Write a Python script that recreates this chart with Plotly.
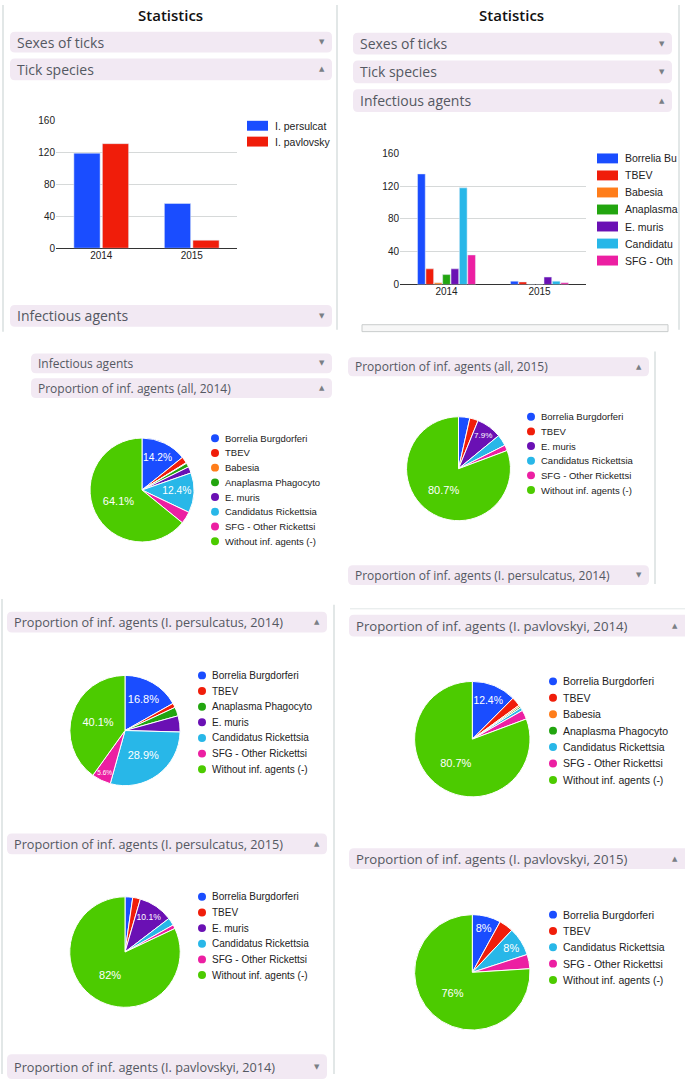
import plotly.graph_objects as go

W, H = 685, 1080

# ---- data -------------------------------------------------------------
years = ["2014", "2015"]

species_labels = ["I. persulcat", "I. pavlovsky"]
persulcatus_counts = [119, 56]
pavlovskyi_counts = [131, 10]

agents = ["Borrelia Burgdorferi", "TBEV", "Babesia", "Anaplasma Phagocytophilum",
          "E. muris", "Candidatus Rickettsia", "SFG - Other Rickettsia",
          "Without inf. agents (-)"]
# legend texts as they are visible (clipped) in the screenshots
bar_legend_labels = ["Borrelia Bu", "TBEV", "Babesia", "Anaplasma", "E. muris", "Candidatu", "SFG - Oth"]
pie_legend_labels = ["Borrelia Burgdorferi", "TBEV", "Babesia", "Anaplasma Phagocyto",
                     "E. muris", "Candidatus Rickettsia", "SFG - Other Rickettsi",
                     "Without inf. agents (-)"]

all_2014 = [135, 19, 2, 12, 19, 118, 36, 610]
all_2015 = [4, 3, 0, 0, 9, 4, 2, 92]
persulcatus_2014 = [39, 3, 0, 6, 11, 67, 13, 93]
pavlovskyi_2014 = [29, 6, 1, 1, 0, 2, 6, 188]
persulcatus_2015 = [2, 2, 0, 0, 9, 2, 1, 73]
pavlovskyi_2015 = [2, 1, 0, 0, 0, 2, 1, 19]

agent_colors = ["#1a4dff", "#f01d0a", "#ff7d1a", "#22a50f", "#6a10b4",
                "#28b7e8", "#ec1fa2", "#4ccb00"]
species_colors = ["#1a4dff", "#f01d0a"]

HEADER_FILL = "#f2e9f3"
HEADER_TXT = "#545862"
BORDER = "#e2e7e7"


def X(v):
    return v / W


def Y(v):
    return 1 - v / H


shapes = []
annotations = []


def rounded_box(x0, y0, x1, y1, r=5):
    p = (f"M{X(x0 + r)},{Y(y0)} L{X(x1 - r)},{Y(y0)} Q{X(x1)},{Y(y0)} {X(x1)},{Y(y0 + r)} "
         f"L{X(x1)},{Y(y1 - r)} Q{X(x1)},{Y(y1)} {X(x1 - r)},{Y(y1)} "
         f"L{X(x0 + r)},{Y(y1)} Q{X(x0)},{Y(y1)} {X(x0)},{Y(y1 - r)} "
         f"L{X(x0)},{Y(y0 + r)} Q{X(x0)},{Y(y0)} {X(x0 + r)},{Y(y0)} Z")
    shapes.append(dict(type="path", xref="paper", yref="paper", path=p,
                       fillcolor=HEADER_FILL, line=dict(width=0), layer="above"))


def header(x0, y0, x1, y1, text, up, size):
    rounded_box(x0, y0, x1, y1)
    ym = Y((y0 + y1) / 2)
    annotations.append(dict(x=X(x0 + 5), y=ym, xref="paper", yref="paper", text=text,
                            showarrow=False, xanchor="left", yanchor="middle",
                            font=dict(family="Open Sans", size=size, color=HEADER_TXT)))
    annotations.append(dict(x=X(min(x1, W) - 10), y=ym, xref="paper", yref="paper",
                            text="▲" if up else "▼", showarrow=False,
                            xanchor="center", yanchor="middle",
                            font=dict(family="DejaVu Sans", size=7, color="#7a7f85")))


def line(x0, y0, x1, y1, color=BORDER, width=2):
    shapes.append(dict(type="line", xref="paper", yref="paper", x0=X(x0), y0=Y(y0),
                       x1=X(x1), y1=Y(y1), line=dict(color=color, width=width)))


def legend(x, y, step, labels, colors, size, kind="circle"):
    for i, (lab, col) in enumerate(zip(labels, colors)):
        yy = y + i * step
        if kind == "circle":
            shapes.append(dict(type="circle", xref="paper", yref="paper",
                               x0=X(x - 4), x1=X(x + 4), y0=Y(yy + 4), y1=Y(yy - 4),
                               fillcolor=col, line=dict(width=0)))
            tx = x + 8
        else:
            shapes.append(dict(type="rect", xref="paper", yref="paper",
                               x0=X(x), x1=X(x + 21), y0=Y(yy + 5), y1=Y(yy - 5),
                               fillcolor=col, line=dict(width=0)))
            tx = x + 26
        annotations.append(dict(x=X(tx), y=Y(yy), xref="paper", yref="paper", text=lab,
                                showarrow=False, xanchor="left", yanchor="middle",
                                font=dict(family="Liberation Sans", size=size, color="#222222")))


def pie_trace(values, cx, cy, r):
    idx = [i for i, v in enumerate(values) if v > 0]
    vals = [values[i] for i in idx]
    total = sum(vals)
    txt = []
    for v in vals:
        p = 100 * v / total
        s = f"{p:.1f}".rstrip("0").rstrip(".")
        txt.append(s + "%" if p >= 5 else "")
    return go.Pie(labels=[agents[i] for i in idx], values=vals, text=txt,
                  textinfo="text", textposition="inside",
                  insidetextorientation="horizontal",
                  textfont=dict(family="Liberation Sans", size=11, color="white"),
                  marker=dict(colors=[agent_colors[i] for i in idx],
                              line=dict(color="white", width=1)),
                  sort=False, direction="clockwise", showlegend=False,
                  domain=dict(x=[X(cx - r), X(cx + r)], y=[Y(cy + r), Y(cy - r)]))


def pie_legend(values, x, y, step, size):
    idx = [i for i, v in enumerate(values) if v > 0]
    legend(x, y, step, [pie_legend_labels[i] for i in idx],
           [agent_colors[i] for i in idx], size)


fig = go.Figure()

# ---- bar charts ---------------------------------------------------------
fig.add_trace(go.Bar(x=years, y=persulcatus_counts, name=species_labels[0],
                     marker=dict(color=species_colors[0]), xaxis="x", yaxis="y"))
fig.add_trace(go.Bar(x=years, y=pavlovskyi_counts, name=species_labels[1],
                     marker=dict(color=species_colors[1]), xaxis="x", yaxis="y"))

for i in range(7):
    fig.add_trace(go.Bar(x=years, y=[all_2014[i], all_2015[i]], name=agents[i],
                         marker=dict(color=agent_colors[i]), xaxis="x2", yaxis="y2"))

legend(247, 122, 16, species_labels, species_colors, 10.5, kind="rect")
legend(597, 155, 17.2, bar_legend_labels, agent_colors[:7], 10.5, kind="rect")

# ---- pies -------------------------------------------------------------
fig.add_trace(pie_trace(all_2014, 142, 490, 52.5))
pie_legend(all_2014, 215, 437.7, 14.86, 9.5)

fig.add_trace(pie_trace(all_2015, 458.5, 468.5, 52.5))
pie_legend(all_2015, 531, 416, 14.8, 9.5)

fig.add_trace(pie_trace(persulcatus_2014, 125, 733, 55.7))
pie_legend(persulcatus_2014, 202, 677.3, 15.8, 10)

fig.add_trace(pie_trace(pavlovskyi_2014, 472.3, 741.7, 58.3))
pie_legend(pavlovskyi_2014, 553, 683.3, 16.6, 10.5)

fig.add_trace(pie_trace(persulcatus_2015, 125, 956.8, 55.8))
pie_legend(persulcatus_2015, 202, 901, 15.8, 10)

fig.add_trace(pie_trace(pavlovskyi_2015, 472.3, 977.3, 58.3))
pie_legend(pavlovskyi_2015, 553, 919, 16.5, 10.5)

# ---- page furniture ---------------------------------------------------
for cx in (170, 512):
    annotations.append(dict(x=X(cx), y=Y(10), xref="paper", yref="paper", text="Statistics",
                            showarrow=False, xanchor="center", yanchor="middle",
                            font=dict(family="Open Sans", size=15, color="#111111", weight=600)))

header(10, 27, 332, 48, "Sexes of ticks", False, 14)
header(10, 54, 332, 76, "Tick species", True, 14)
header(10, 303, 332, 325, "Infectious agents", False, 14)
header(353, 28, 672, 50, "Sexes of ticks", False, 14)
header(353, 56, 672, 79, "Tick species", False, 14)
header(353, 85, 672, 108, "Infectious agents", True, 14)
header(31, 352, 332, 372, "Infectious agents", False, 12)
header(31, 377, 332, 397, "Proportion of inf. agents (all, 2014)", True, 12)
header(348, 356, 649, 375, "Proportion of inf. agents (all, 2015)", True, 12)
header(348, 566, 649, 586, "Proportion of inf. agents (I. persulcatus, 2014)", False, 12)
header(7, 613, 327, 634, "Proportion of inf. agents (I. persulcatus, 2014)", True, 12.7)
header(349, 616, 690, 638, "Proportion of inf. agents (I. pavlovskyi, 2014)", True, 13.2)
header(7, 837, 327, 858, "Proportion of inf. agents (I. persulcatus, 2015)", True, 12.7)
header(349, 852, 690, 873, "Proportion of inf. agents (I. pavlovskyi, 2015)", True, 13.2)
header(7, 1060, 327, 1085, "Proportion of inf. agents (I. pavlovskyi, 2014)", False, 12.7)

line(3, 0, 3, 330)
line(337, 0, 337, 328)
line(679, 0, 679, 328)
line(655, 350, 655, 585)
line(350, 610, 685, 610, width=1)
line(2, 600, 2, 1080)
line(334, 606, 334, 1080)
shapes.append(dict(type="rect", xref="paper", yref="paper", x0=X(362), x1=X(668),
                   y0=Y(330), y1=Y(323), line=dict(color="#c9cccc", width=1),
                   fillcolor="#f7f7f7"))

axis_font = dict(family="Liberation Sans", size=10, color="#222222")
yaxis_common = dict(range=[0, 160], tickvals=[0, 40, 80, 120, 160], gridcolor="#d6d9d9",
                    zeroline=True, zerolinecolor="#333333", zerolinewidth=1,
                    showline=False, ticks="", tickfont=axis_font, fixedrange=True)
xaxis_common = dict(type="category", showgrid=False, ticks="", showline=False,
                    tickfont=axis_font, fixedrange=True)

fig.update_layout(
    width=W,
    height=H,
    margin=dict(l=0, r=0, t=0, b=0),
    paper_bgcolor="white",
    plot_bgcolor="rgba(0,0,0,0)",
    showlegend=False,
    barmode="group",
    bargap=0.37,
    bargroupgap=0.08,
    xaxis=dict(domain=[X(56), X(237)], anchor="y", **xaxis_common),
    yaxis=dict(domain=[Y(245.7), Y(116.7)], anchor="x", **yaxis_common),
    xaxis2=dict(domain=[X(400), X(586)], anchor="y2", **xaxis_common),
    yaxis2=dict(domain=[Y(282.3), Y(150)], anchor="x2", **yaxis_common),
    shapes=shapes,
    annotations=annotations,
)

# the page's default body margin would shift the figure; remove it
fig.write_html("out.html", config=dict(displayModeBar=False),
               post_script="document.body.style.margin='0';document.body.style.overflow='hidden';")
